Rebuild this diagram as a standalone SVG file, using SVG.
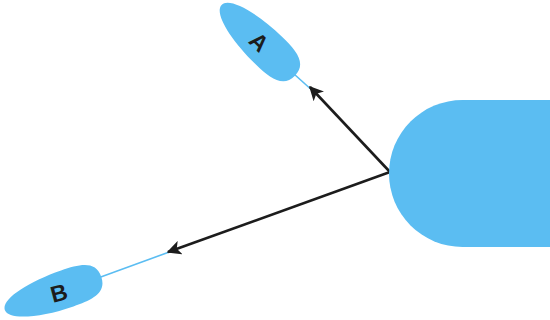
<svg xmlns="http://www.w3.org/2000/svg" width="550" height="320" viewBox="0 0 550 320">
<style>
.shape{fill:#5bbdf2}
.lbl{font-family:"Liberation Sans",Arial,sans-serif;font-size:23px;font-weight:bold;fill:#1c1c1c;text-anchor:middle;dominant-baseline:central}
.tail{stroke:#5bbdf2;stroke-width:1.6;fill:none}
.edge{stroke:#1c1c1c;stroke-width:2.6;fill:none;marker-end:url(#ah)}
</style>
<defs>
<marker id="ah" viewBox="0 0 10 10" refX="9" refY="5" markerWidth="5.5" markerHeight="5.5" orient="auto" markerUnits="strokeWidth">
<path d="M0,0 L10,5 L0,10 L2.5,5 Z" fill="#1c1c1c"/>
</marker>
<path id="boat" d="M 50,0 C 50,17 34,19 14,19 C -22,19 -52,11 -52,0 C -52,-11 -22,-19 14,-19 C 34,-19 50,-17 50,0 Z"/>
</defs>
<g id="connectors">
<line class="tail" x1="294" y1="74" x2="314" y2="92"/>
<line class="tail" x1="98" y1="278" x2="172" y2="251"/>
<line class="edge" x1="390" y1="172" x2="310" y2="87"/>
<line class="edge" x1="390" y1="172" x2="168" y2="252"/>
</g>
<g id="node-main">
<path class="shape" d="M 550,100 L 462.5,100 A 73.5,73.5 0 0 0 462.5,247 L 550,247 Z"/>
</g>
<g id="node-A">
<use href="#boat" class="shape" transform="translate(259,41) rotate(44)"/>
<text class="lbl" transform="translate(259,42) rotate(44)">A</text>
</g>
<g id="node-B">
<use href="#boat" class="shape" transform="translate(54,293) rotate(-19)"/>
<text class="lbl" transform="translate(59,293) rotate(-15)">B</text>
</g>
</svg>
